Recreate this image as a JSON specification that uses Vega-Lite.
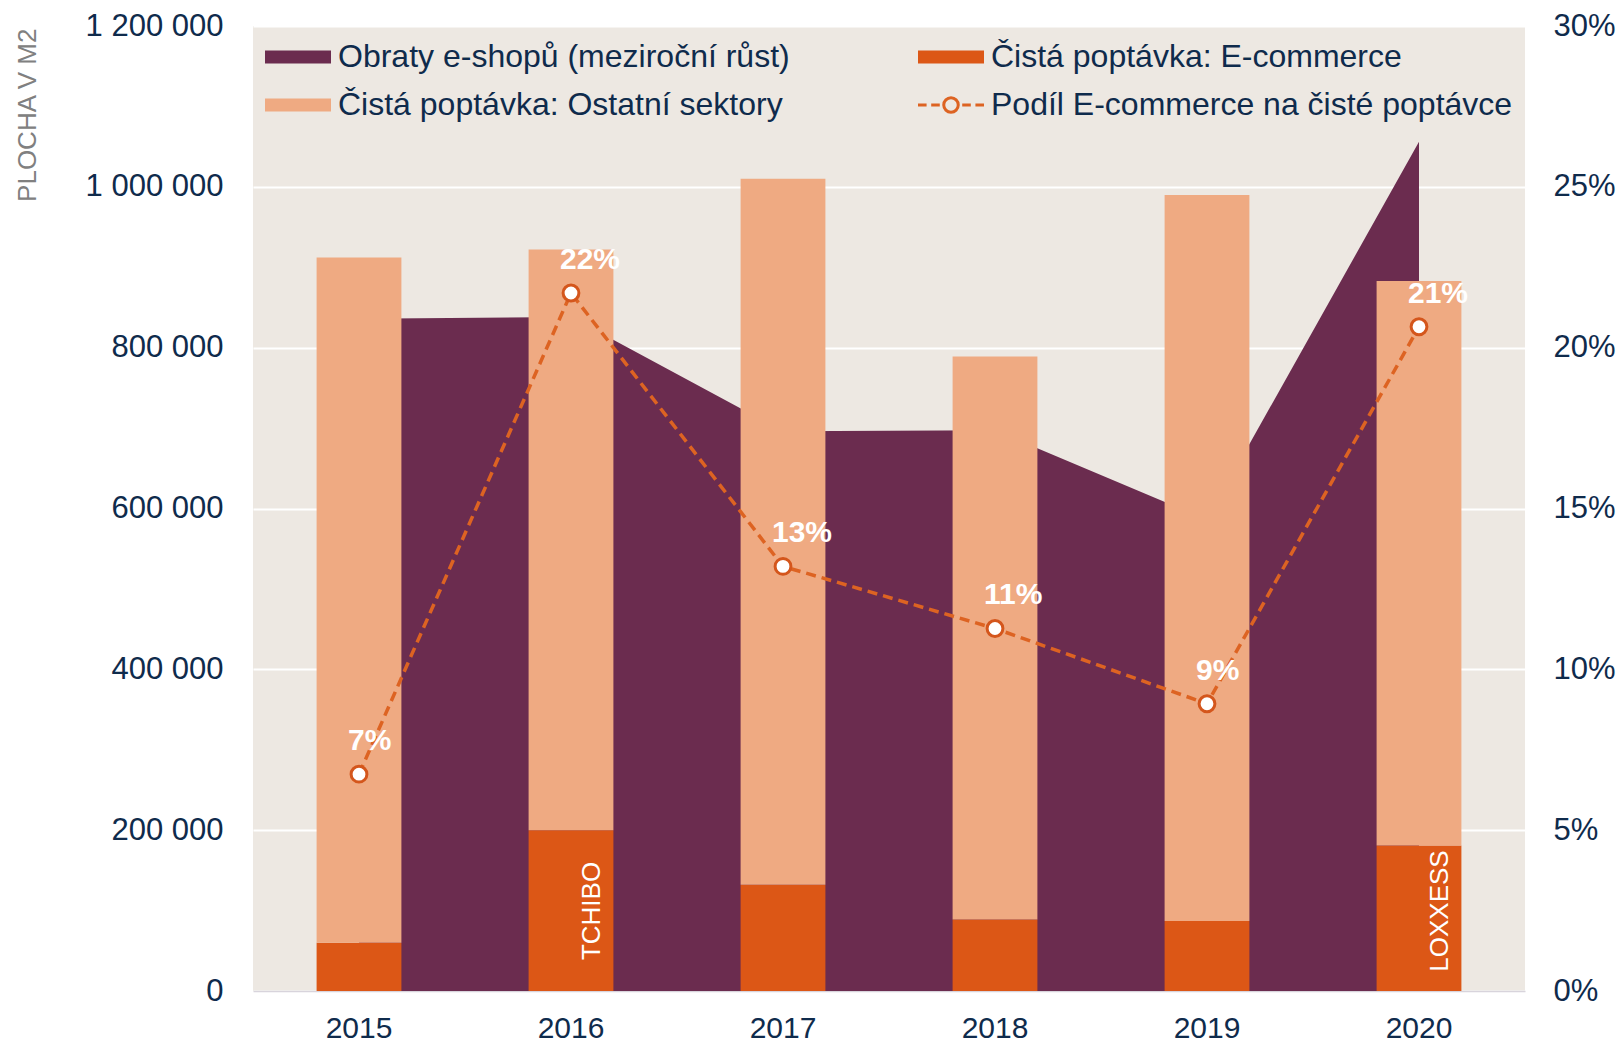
{
  "$schema": "https://vega.github.io/schema/vega-lite/v6.json",
  "width": 1272,
  "height": 965,
  "autosize": {"type": "none"},
  "padding": {"left": 253, "top": 26, "right": 96, "bottom": 52},
  "background": "#FFFFFF",
  "config": {
    "font": "Liberation Sans",
    "view": {"fill": "#EDE8E2", "stroke": null},
    "axis": {"labelFont": "Liberation Sans", "labelFontSize": 31, "labelColor": "#0F2B4C", "ticks": false, "tickSize": 0, "domain": false, "grid": false},
    "legend": {
      "orient": "none",
      "legendX": 29,
      "legendY": 15,
      "columns": 2,
      "title": null,
      "padding": 0,
      "columnPadding": 122,
      "rowPadding": 16,
      "symbolSize": 4356,
      "symbolStrokeWidth": 0,
      "symbolType": "M-1,-0.2H1V0.2H-1Z",
      "labelFont": "Liberation Sans",
      "labelFontSize": 32,
      "labelColor": "#0F2B4C",
      "labelOffset": 24,
      "labelLimit": 700
    }
  },
  "datasets": {
    "demand": [
      {"year": "2015", "series": "Čistá poptávka: E-commerce", "value": 60000},
      {"year": "2015", "series": "Čistá poptávka: Ostatní sektory", "value": 852000},
      {"year": "2016", "series": "Čistá poptávka: E-commerce", "value": 200000},
      {"year": "2016", "series": "Čistá poptávka: Ostatní sektory", "value": 722000},
      {"year": "2017", "series": "Čistá poptávka: E-commerce", "value": 132000},
      {"year": "2017", "series": "Čistá poptávka: Ostatní sektory", "value": 878000},
      {"year": "2018", "series": "Čistá poptávka: E-commerce", "value": 89000},
      {"year": "2018", "series": "Čistá poptávka: Ostatní sektory", "value": 700000},
      {"year": "2019", "series": "Čistá poptávka: E-commerce", "value": 87000},
      {"year": "2019", "series": "Čistá poptávka: Ostatní sektory", "value": 903000},
      {"year": "2020", "series": "Čistá poptávka: E-commerce", "value": 181000},
      {"year": "2020", "series": "Čistá poptávka: Ostatní sektory", "value": 702000}
    ],
    "share": [
      {"year": "2015", "share": 0.0674},
      {"year": "2016", "share": 0.217},
      {"year": "2017", "share": 0.132},
      {"year": "2018", "share": 0.1127},
      {"year": "2019", "share": 0.0893},
      {"year": "2020", "share": 0.2065}
    ],
    "growth": [
      {"year": "2015", "growth": 0.209},
      {"year": "2016", "growth": 0.2095},
      {"year": "2017", "growth": 0.174},
      {"year": "2018", "growth": 0.1743},
      {"year": "2019", "growth": 0.1465},
      {"year": "2020", "growth": 0.264}
    ],
    "tenants": [
      {"year": "2016", "tenant": "TCHIBO"},
      {"year": "2020", "tenant": "LOXXESS"}
    ]
  },
  "encoding": {
    "x": {
      "field": "year",
      "type": "ordinal",
      "scale": {"paddingInner": 0.6, "paddingOuter": 0.3},
      "axis": {"title": null, "labelAngle": 0, "labelPadding": 22, "labelFontSize": 30, "domain": true, "domainColor": "#D8D4DC", "domainWidth": 1.5}
    }
  },
  "layer": [
    {
      "data": {"name": "growth"},
      "mark": {"type": "area", "opacity": 1},
      "encoding": {
        "y": {"field": "growth", "type": "quantitative", "scale": {"domain": [0, 0.3], "nice": false}, "axis": null},
        "color": {
          "datum": "Obraty e-shopů (meziroční růst)",
          "type": "nominal",
          "scale": {
            "domain": ["Obraty e-shopů (meziroční růst)", "Čistá poptávka: Ostatní sektory", "Čistá poptávka: E-commerce", "Podíl E-commerce na čisté poptávce"],
            "range": ["#6B2C4F", "#EFAA82", "#DC5716", "#DD6322"]
          },
          "legend": {
            "title": null,
            "encode": {
              "symbols": {
                "update": {
                  "shape": {"signal": "datum.value === 'Podíl E-commerce na čisté poptávce' ? 'M-1,0H-0.74M-0.6,0H-0.34M-0.22,0A0.22,0.22 0 1,1 0.22,0A0.22,0.22 0 1,1 -0.22,0ZM0.34,0H0.6M0.74,0H1' : 'M-1,-0.2H1V0.2H-1Z'"},
                  "fill": {"signal": "datum.value === 'Obraty e-shopů (meziroční růst)' ? '#6B2C4F' : datum.value === 'Čistá poptávka: E-commerce' ? '#DC5716' : datum.value === 'Čistá poptávka: Ostatní sektory' ? '#EFAA82' : '#FFFFFF'"},
                  "fillOpacity": {"signal": "datum.value === 'Podíl E-commerce na čisté poptávce' ? 0 : 1"},
                  "stroke": {"signal": "datum.value === 'Podíl E-commerce na čisté poptávce' ? '#D4561C' : 'transparent'"},
                  "strokeWidth": {"signal": "datum.value === 'Podíl E-commerce na čisté poptávce' ? 3 : 0"},
                  "opacity": {"value": 1}
                }
              }
            }
          }
        }
      }
    },
    {
      "layer": [
        {
          "data": {"name": "demand"},
          "mark": {"type": "bar"},
          "encoding": {
            "y": {
              "field": "value",
              "type": "quantitative",
              "stack": "zero",
              "scale": {"domain": [0, 1200000], "nice": false},
              "axis": {
                "orient": "left",
                "values": [0, 200000, 400000, 600000, 800000, 1000000, 1200000],
                "labelExpr": "replace(format(datum.value, ','), /,/g, ' ')",
                "grid": true,
                "gridColor": "#FFFFFF",
                "gridWidth": 2,
                "labelPadding": 30,
                "title": "PLOCHA V M2",
                "titleFont": "Liberation Sans",
                "titleFontSize": 26,
                "titleFontWeight": "normal",
                "titleColor": "#808080",
                "titleX": -226,
                "titleY": 2,
                "titleAlign": "right",
                "titleAngle": -90,
                "titleBaseline": "middle"
              }
            },
            "color": {
              "field": "series",
              "type": "nominal",
              "legend": {
                "title": null,
                "encode": {
                  "symbols": {
                    "update": {
                      "shape": {"signal": "datum.value === 'Podíl E-commerce na čisté poptávce' ? 'M-1,0H-0.74M-0.6,0H-0.34M-0.22,0A0.22,0.22 0 1,1 0.22,0A0.22,0.22 0 1,1 -0.22,0ZM0.34,0H0.6M0.74,0H1' : 'M-1,-0.2H1V0.2H-1Z'"},
                      "fill": {"signal": "datum.value === 'Obraty e-shopů (meziroční růst)' ? '#6B2C4F' : datum.value === 'Čistá poptávka: E-commerce' ? '#DC5716' : datum.value === 'Čistá poptávka: Ostatní sektory' ? '#EFAA82' : '#FFFFFF'"},
                      "fillOpacity": {"signal": "datum.value === 'Podíl E-commerce na čisté poptávce' ? 0 : 1"},
                      "stroke": {"signal": "datum.value === 'Podíl E-commerce na čisté poptávce' ? '#D4561C' : 'transparent'"},
                      "strokeWidth": {"signal": "datum.value === 'Podíl E-commerce na čisté poptávce' ? 3 : 0"},
                      "opacity": {"value": 1}
                    }
                  }
                }
              }
            },
            "order": {"field": "series", "sort": "ascending"}
          }
        },
        {
          "data": {"name": "tenants"},
          "mark": {"type": "text", "angle": 270, "align": "center", "baseline": "middle", "fontSize": 26, "color": "#FFFFFF", "xOffset": 21, "yOffset": -80},
          "encoding": {
            "y": {"datum": 0, "type": "quantitative"},
            "text": {"field": "tenant"}
          }
        }
      ]
    },
    {
      "data": {"name": "share"},
      "encoding": {
        "y": {
          "field": "share",
          "type": "quantitative",
          "scale": {"domain": [0, 0.3], "nice": false},
          "axis": {"orient": "right", "values": [0, 0.05, 0.1, 0.15, 0.2, 0.25, 0.3], "format": ".0%", "grid": false, "labelPadding": 28, "title": null}
        }
      },
      "layer": [
        {
          "mark": {"type": "line", "strokeDash": [10, 6], "strokeWidth": 3.5},
          "encoding": {
            "color": {
              "datum": "Podíl E-commerce na čisté poptávce",
              "type": "nominal",
              "legend": {
                "title": null,
                "encode": {
                  "symbols": {
                    "update": {
                      "shape": {"signal": "datum.value === 'Podíl E-commerce na čisté poptávce' ? 'M-1,0H-0.74M-0.6,0H-0.34M-0.22,0A0.22,0.22 0 1,1 0.22,0A0.22,0.22 0 1,1 -0.22,0ZM0.34,0H0.6M0.74,0H1' : 'M-1,-0.2H1V0.2H-1Z'"},
                      "fill": {"signal": "datum.value === 'Obraty e-shopů (meziroční růst)' ? '#6B2C4F' : datum.value === 'Čistá poptávka: E-commerce' ? '#DC5716' : datum.value === 'Čistá poptávka: Ostatní sektory' ? '#EFAA82' : '#FFFFFF'"},
                      "fillOpacity": {"signal": "datum.value === 'Podíl E-commerce na čisté poptávce' ? 0 : 1"},
                      "stroke": {"signal": "datum.value === 'Podíl E-commerce na čisté poptávce' ? '#D4561C' : 'transparent'"},
                      "strokeWidth": {"signal": "datum.value === 'Podíl E-commerce na čisté poptávce' ? 3 : 0"},
                      "opacity": {"value": 1}
                    }
                  }
                }
              }
            }
          }
        },
        {
          "mark": {"type": "point", "filled": true, "fill": "#FFFFFF", "stroke": "#D4561C", "strokeWidth": 3, "size": 250, "opacity": 1}
        },
        {
          "mark": {"type": "text", "align": "left", "baseline": "alphabetic", "dx": -11, "dy": -24, "fontSize": 30, "fontWeight": "bold", "color": "#FFFFFF"},
          "encoding": {"text": {"field": "share", "type": "quantitative", "format": ".0%"}}
        }
      ]
    }
  ],
  "resolve": {"scale": {"y": "independent"}}
}
